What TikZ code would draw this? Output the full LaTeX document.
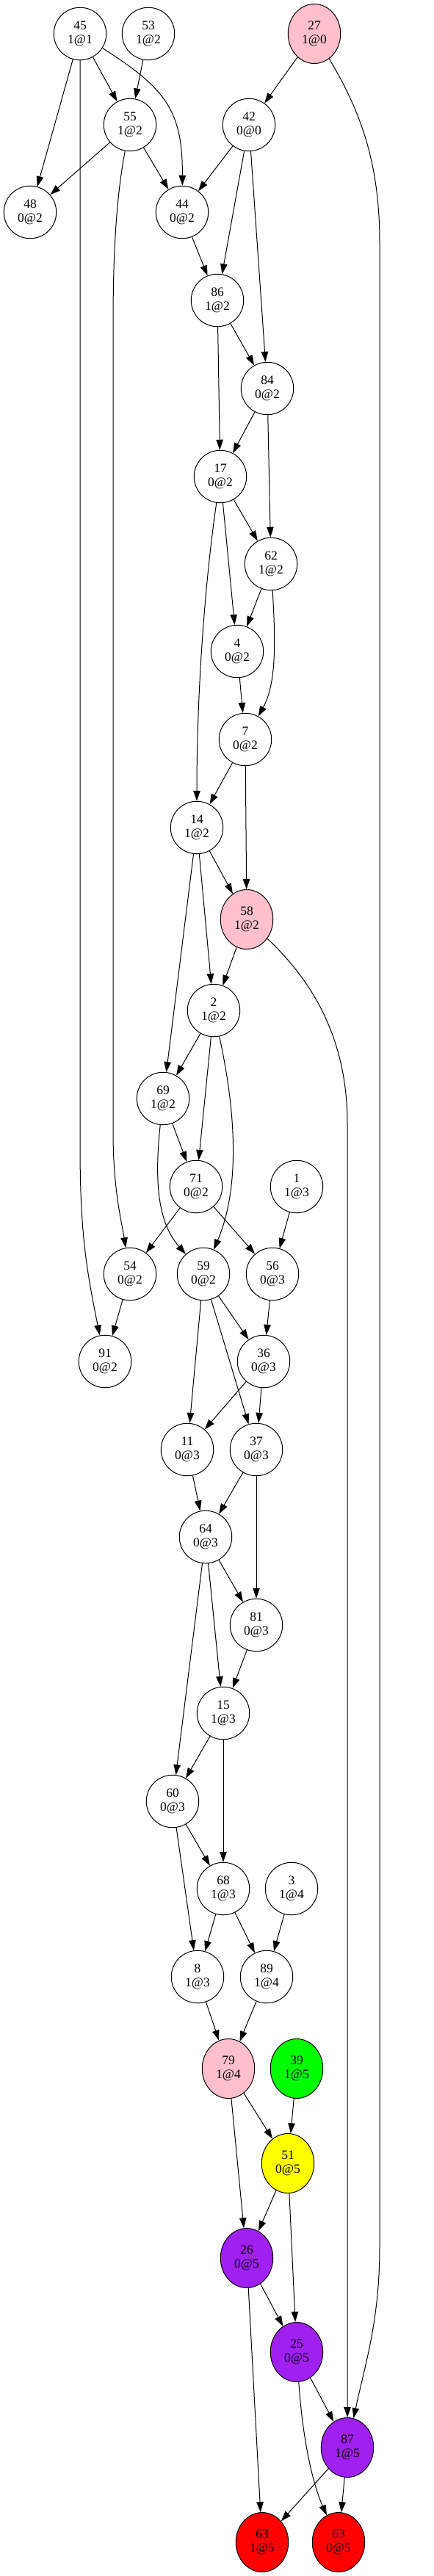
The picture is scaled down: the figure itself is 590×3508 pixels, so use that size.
\documentclass[tikz,border=0pt]{standalone}
\usepackage{fontspec}
\setmainfont{Liberation Serif}
\usetikzlibrary{arrows.meta, shapes.geometric}

\definecolor{gvpink}{RGB}{255,192,203}
\definecolor{gvgreen}{RGB}{0,255,0}
\definecolor{gvyellow}{RGB}{255,255,0}
\definecolor{gvpurple}{RGB}{160,32,240}
\definecolor{gvred}{RGB}{255,0,0}

\begin{document}
\begin{tikzpicture}[x=1pt, y=1pt, line width=1pt, >={Triangle[length=14pt, width=9.5pt]},
    every node/.style={font=\fontsize{17.5}{19.5}\selectfont, align=center, inner sep=0pt},
    var/.style={draw, circle, minimum size=71.5pt},
    tagged/.style={draw, ellipse, minimum width=71.5pt, minimum height=81pt, fill=#1}]

      % Fix the page
      \useasboundingbox (0,0) rectangle (590,-3508);

      % Draw the nodes, rank by rank
      \node[var] (n45) at (109,-46) {45\\1@1};
      \node[var] (n53) at (202,-46) {53\\1@2};
      \node[tagged=gvpink] (n27) at (428,-46) {27\\1@0};

      \node[var] (n55) at (177,-170) {55\\1@2};
      \node[var] (n42) at (339,-170) {42\\0@0};

      \node[var] (n48) at (41,-289) {48\\0@2};
      \node[var] (n44) at (248,-289) {44\\0@2};

      \node[var] (n86) at (296,-409) {86\\1@2};
      \node[var] (n84) at (364,-529) {84\\0@2};
      \node[var] (n17) at (300,-649) {17\\0@2};
      \node[var] (n62) at (369,-768) {62\\1@2};
      \node[var] (n4) at (323,-887) {4\\0@2};
      \node[var] (n7) at (334,-1007) {7\\0@2};
      \node[var] (n14) at (268,-1127) {14\\1@2};
      \node[tagged=gvpink] (n58) at (336,-1252) {58\\1@2};
      \node[var] (n2) at (291,-1376) {2\\1@2};
      \node[var] (n69) at (222,-1496) {69\\1@2};

      \node[var] (n71) at (267,-1616) {71\\0@2};
      \node[var] (n1) at (404,-1616) {1\\1@3};

      \node[var] (n54) at (177,-1735) {54\\0@2};
      \node[var] (n59) at (277,-1735) {59\\0@2};
      \node[var] (n56) at (371,-1735) {56\\0@3};

      \node[var] (n91) at (143,-1854) {91\\0@2};
      \node[var] (n36) at (359,-1854) {36\\0@3};

      \node[var] (n11) at (255,-1974) {11\\0@3};
      \node[var] (n37) at (349,-1974) {37\\0@3};

      \node[var] (n64) at (280,-2093) {64\\0@3};
      \node[var] (n81) at (349,-2213) {81\\0@3};
      \node[var] (n15) at (304,-2333) {15\\1@3};
      \node[var] (n60) at (235,-2453) {60\\0@3};

      \node[var] (n68) at (304,-2572) {68\\1@3};
      \node[var] (n3) at (397,-2572) {3\\1@4};

      \node[var] (n8) at (269,-2692) {8\\1@3};
      \node[var] (n89) at (363,-2692) {89\\1@4};

      \node[tagged=gvpink] (n79) at (311,-2817) {79\\1@4};
      \node[tagged=gvgreen] (n39) at (404,-2817) {39\\1@5};

      \node[tagged=gvyellow] (n51) at (392,-2946) {51\\0@5};
      \node[tagged=gvpurple] (n26) at (336,-3075) {26\\0@5};
      \node[tagged=gvpurple] (n25) at (404,-3203) {25\\0@5};
      \node[tagged=gvpurple] (n87) at (473,-3333) {87\\1@5};

      \node[tagged=gvred] (n63a) at (357,-3462) {63\\1@5};
      \node[tagged=gvred] (n63b) at (461,-3462) {63\\0@5};

      % Draw the edges from the top rows
      \draw[->] (n45) -- (n48);
      \draw[->] (n45) -- (n55);
      \draw[->] (n45) .. controls (225,-120) and (249,-150) .. (n44);
      \draw[->] (n45) -- (109,-1560) .. controls (109,-1680) and (118,-1730) .. (n91);
      \draw[->] (n53) -- (n55);
      \draw[->] (n27) -- (n42);
      \draw[->] (n27) .. controls (490,-150) and (517,-220) .. (517,-330)
        -- (517,-3060) .. controls (517,-3160) and (497,-3220) .. (n87);

      \draw[->] (n55) -- (n48);
      \draw[->] (n55) -- (n44);
      \draw[->] (n55) .. controls (160,-260) and (154,-330) .. (154,-440)
        -- (154,-1540) .. controls (154,-1620) and (165,-1660) .. (n54);
      \draw[->] (n42) -- (n44);
      \draw[->] (n42) -- (n86);
      \draw[->] (n42) -- (n84);

      % Draw the edges of the middle chain
      \draw[->] (n44) -- (n86);
      \draw[->] (n86) -- (n84);
      \draw[->] (n86) -- (n17);
      \draw[->] (n84) -- (n17);
      \draw[->] (n84) -- (n62);
      \draw[->] (n17) -- (n62);
      \draw[->] (n17) -- (n4);
      \draw[->] (n17) .. controls (278,-800) and (268,-950) .. (n14);
      \draw[->] (n62) -- (n4);
      \draw[->] (n62) .. controls (375,-870) and (377,-930) .. (n7);
      \draw[->] (n4) -- (n7);
      \draw[->] (n7) -- (n14);
      \draw[->] (n7) -- (n58);
      \draw[->] (n14) -- (n58);
      \draw[->] (n14) -- (n2);
      \draw[->] (n14) -- (n69);
      \draw[->] (n58) -- (n2);
      \draw[->] (n58) .. controls (430,-1340) and (473,-1420) .. (473,-1530) -- (n87);

      \draw[->] (n2) -- (n69);
      \draw[->] (n2) -- (n71);
      \draw[->] (n2) .. controls (318,-1500) and (330,-1610) .. (n59);
      \draw[->] (n69) -- (n71);
      \draw[->] (n69) .. controls (210,-1610) and (215,-1665) .. (n59);
      \draw[->] (n71) -- (n54);
      \draw[->] (n71) -- (n56);
      \draw[->] (n1) -- (n56);
      \draw[->] (n54) -- (n91);

      % Draw the edges of the lower part
      \draw[->] (n59) -- (n36);
      \draw[->] (n59) -- (n11);
      \draw[->] (n59) -- (n37);
      \draw[->] (n56) -- (n36);
      \draw[->] (n36) -- (n11);
      \draw[->] (n36) -- (n37);
      \draw[->] (n11) -- (n64);
      \draw[->] (n37) -- (n64);
      \draw[->] (n37) -- (n81);
      \draw[->] (n64) -- (n81);
      \draw[->] (n64) -- (n15);
      \draw[->] (n64) -- (n60);
      \draw[->] (n81) -- (n15);
      \draw[->] (n15) -- (n60);
      \draw[->] (n15) -- (n68);
      \draw[->] (n60) -- (n68);
      \draw[->] (n60) -- (n8);
      \draw[->] (n68) -- (n8);
      \draw[->] (n68) -- (n89);
      \draw[->] (n3) -- (n89);
      \draw[->] (n8) -- (n79);
      \draw[->] (n89) -- (n79);

      % Draw the edges between the coloured nodes
      \draw[->] (n79) -- (n51);
      \draw[->] (n79) -- (n26);
      \draw[->] (n39) -- (n51);
      \draw[->] (n51) -- (n26);
      \draw[->] (n51) -- (n25);
      \draw[->] (n26) -- (n25);
      \draw[->] (n26) -- (n63a);
      \draw[->] (n25) -- (n87);
      \draw[->] (n25) .. controls (412,-3320) and (425,-3380) .. (n63b);
      \draw[->] (n87) -- (n63a);
      \draw[->] (n87) -- (n63b);

    \end{tikzpicture}
\end{document}
